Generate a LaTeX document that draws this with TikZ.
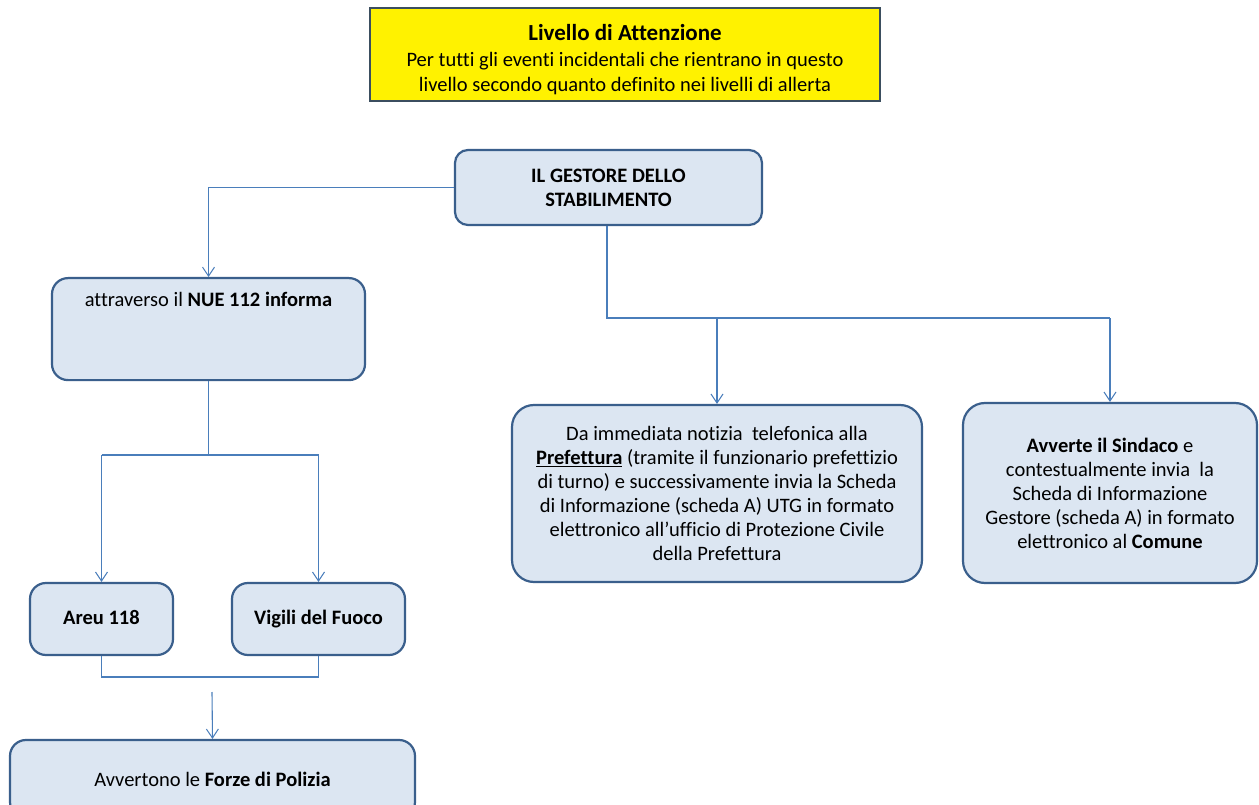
\documentclass[tikz,border=0pt]{standalone}
\usepackage{fontspec}
\setmainfont{Carlito}[Ligatures=NoCommon]
\usetikzlibrary{arrows.meta}
\definecolor{boxfill}{HTML}{DCE6F2}
\definecolor{boxline}{HTML}{3A5F8C}
\definecolor{conncol}{HTML}{4A7EBB}
\definecolor{yelline}{HTML}{3B4E5F}
\begin{document}
\begin{tikzpicture}[x=1pt,y=-1pt,
  every node/.style={font=\fontsize{20.5}{24}\selectfont, align=center},
  bluebox/.style={draw=boxline, line width=2.2pt, fill=boxfill, rounded corners=16pt, inner sep=0pt},
  yelbox/.style={draw=yelline, line width=2pt, fill=yellow, inner sep=0pt},
  conn/.style={draw=conncol, line width=1.1pt},
  arr/.style={conn, -{Straight Barb[length=9pt,width=12pt,line width=1pt]}}]
\useasboundingbox (0,0) rectangle (1259,805);
\fill[white] (0,0) rectangle (1259,805);

\node[yelbox, minimum width=510pt, minimum height=93pt] (att) at (625,55) {};
\node[font=\fontsize{20.5}{25.5}\selectfont, inner sep=0pt] (atttext) at ([yshift=-5pt]att.center)
  {{\fontsize{23}{25.5}\selectfont\textbf{Livello di Attenzione}}\\Per tutti gli eventi incidentali che rientrano in questo\\livello secondo quanto definito nei livelli di allerta};

\node[bluebox, rounded corners=13pt, minimum width=307pt, minimum height=75pt] (gest) at (608.5,187.5)
  {\textbf{IL GESTORE DELLO}\\\textbf{STABILIMENTO}};

\node[bluebox, anchor=north, minimum width=313pt, text height=20pt, text depth=66pt, inner ysep=8pt] (nue) at (208.5,277)
  {attraverso il \textbf{NUE 112 informa}};

\node[bluebox, rounded corners=22pt, minimum width=410pt, minimum height=177pt] (pref) at (717,493.5)
  {Da immediata notizia\ \ telefonica alla\\\underline{\textbf{Prefettura}} (tramite il funzionario prefettizio\\di turno) e successivamente invia la Scheda\\di Informazione (scheda A) UTG in formato\\elettronico all’ufficio di Protezione Civile\\della Prefettura};

\node[bluebox, rounded corners=22pt, minimum width=294pt, minimum height=180pt] (sind) at (1110,493)
  {\textbf{Avverte il Sindaco} e\\contestualmente invia\ \ la\\Scheda di Informazione\\Gestore (scheda A) in formato\\elettronico al \textbf{Comune}};

\node[bluebox, minimum width=143pt, minimum height=72pt, text height=14pt, text depth=4pt] (areu) at (101.5,619) {\textbf{Areu 118}};
\node[bluebox, minimum width=173pt, minimum height=72pt, text height=14pt, text depth=4pt] (vvf) at (318.5,619) {\textbf{Vigili del Fuoco}};

\node[bluebox, minimum width=405pt, minimum height=78pt] (pol) at (212.5,779)
  {Avvertono le \textbf{Forze di Polizia}};

% connectors
\coordinate (jg) at (607,318);
\coordinate (jn) at (208.5,455);
\coordinate (jb) at (212,677);
\coordinate (ja) at (212,692);

\draw[arr] (gest.west) -| (nue.north);
\draw[conn] (gest.south -| jg) -- (jg) -- (jg -| sind.north);
\draw[arr] (jg -| pref.north) -- (pref.north);
\draw[arr] (jg -| sind.north) -- (sind.north);

\draw[conn] (nue.south) -- (jn);
\draw[conn] (jn -| areu.north) -- (jn -| vvf.north);
\draw[arr] (jn -| areu.north) -- (areu.north);
\draw[arr] (jn -| vvf.north) -- (vvf.north);

\draw[conn] (areu.south) |- (jb) -| (vvf.south);
\draw[arr] (ja) -- (pol.north);
\end{tikzpicture}
\end{document}
